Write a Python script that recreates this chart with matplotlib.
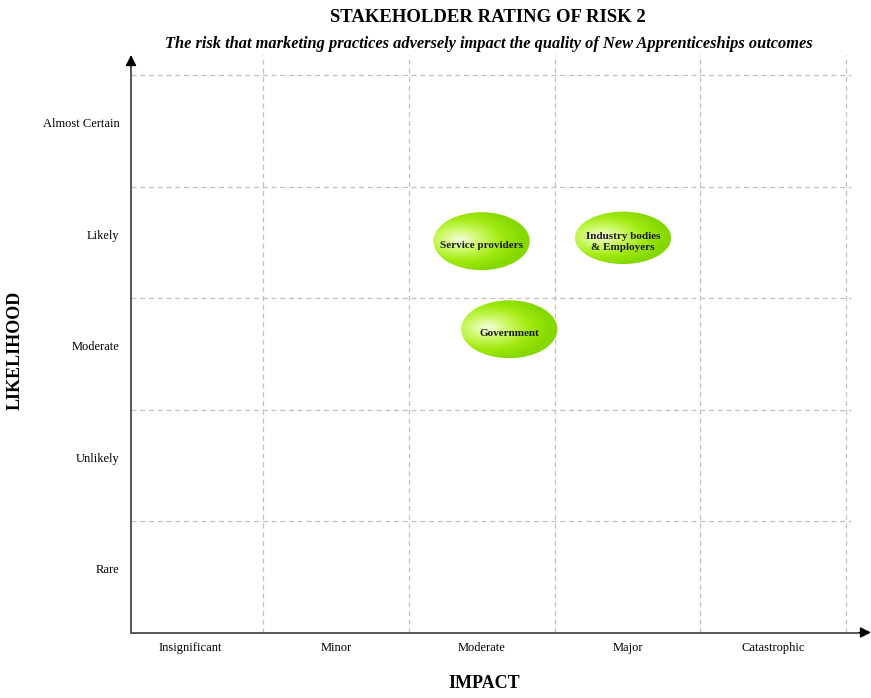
import matplotlib.pyplot as plt
import numpy as np
from matplotlib.colors import LinearSegmentedColormap
from matplotlib.patches import Ellipse

impact_labels = ["Insignificant", "Minor", "Moderate", "Major", "Catastrophic"]
likelihood_labels = ["Rare", "Unlikely", "Moderate", "Likely", "Almost Certain"]

stakeholders = ["Service providers", "Industry bodies\n& Employers", "Government"]
stake_impact = [2.50, 3.47, 2.69]
stake_likelihood = [3.51, 3.54, 2.72]
stake_w = [0.66, 0.66, 0.66]
stake_h = [0.52, 0.47, 0.52]

plt.rcParams["font.family"] = ["Liberation Serif", "DejaVu Serif"]

W, H = 871, 698
fig = plt.figure(figsize=(W / 100, H / 100), dpi=100)
x0, x1 = 131, 871
y0, y1 = 632.5, 55
ax = fig.add_axes([x0 / W, (H - y0) / H, (x1 - x0) / W, (y0 - y1) / H])

xmin, xmax = 0.096, 5.17
ymin, ymax = 0.0, 5.18
ax.set_xlim(xmin, xmax)
ax.set_ylim(ymin, ymax)

# dashed cell borders
for k in range(1, 6):
    ax.axvline(k, color="#c0c0c0", lw=0.9, ls=(0, (4, 3)), zorder=1)
    ax.axhline(k, color="#c0c0c0", lw=0.9, ls=(0, (4, 3)), zorder=1,
               xmax=(5.03 - xmin) / (xmax - xmin))

for s in ax.spines.values():
    s.set_visible(False)
ax.set_xticks([])
ax.set_yticks([])

# axis lines, then black arrowheads at their ends
ax.plot([xmin, xmax - 0.04], [0, 0], color="#555555", lw=1.4,
        clip_on=False, zorder=2)
ax.plot([xmin, xmin], [0, ymax - 0.06], color="#555555", lw=1.4,
        clip_on=False, zorder=2)
ax.annotate("", xy=(xmax, 0), xytext=(xmax - 0.08, 0),
            arrowprops=dict(arrowstyle="-|>", color="black", lw=1.0,
                            mutation_scale=16, shrinkA=0, shrinkB=0),
            annotation_clip=False)
ax.annotate("", xy=(xmin, ymax), xytext=(xmin, ymax - 0.1),
            arrowprops=dict(arrowstyle="-|>", color="black", lw=1.0,
                            mutation_scale=16, shrinkA=0, shrinkB=0),
            annotation_clip=False)

for i, lab in enumerate(impact_labels):
    ax.text(i + 0.5, -0.14, lab, ha="center", va="center", fontsize=9,
            clip_on=False)
for i, lab in enumerate(likelihood_labels):
    ax.text(xmin - 0.08, i + 0.56, lab, ha="right", va="center",
            fontsize=9, clip_on=False)

green = LinearSegmentedColormap.from_list(
    "blob", ["#f4ffdc", "#cdf866", "#a2ea10", "#86d900"])

for name, cx, cy, w, h in zip(stakeholders, stake_impact, stake_likelihood,
                              stake_w, stake_h):
    gx = np.linspace(-1, 1, 200)
    gy = np.linspace(-1, 1, 200)
    X, Y = np.meshgrid(gx, gy)
    r = np.sqrt(((X + 0.45) / 1.3) ** 2 + ((Y - 0.05) / 1.1) ** 2)
    img = ax.imshow(np.clip(r, 0, 1), cmap=green, vmin=0, vmax=1,
                    extent=[cx - w / 2, cx + w / 2, cy - h / 2, cy + h / 2],
                    origin="lower", aspect="auto", zorder=3,
                    interpolation="bilinear")
    ell = Ellipse((cx, cy), w, h, facecolor="none", edgecolor="none",
                  transform=ax.transData)
    ax.add_patch(ell)
    img.set_clip_path(ell)
    ax.text(cx, cy - 0.035, name, ha="center", va="center", fontsize=8,
            fontweight="bold", color="#1a1a1a", zorder=4, linespacing=1.3)

ax.set_xlim(xmin, xmax)
ax.set_ylim(ymin, ymax)

fig.text(488 / W, 1 - 17 / H, "STAKEHOLDER RATING OF RISK 2", ha="center",
         va="center", fontsize=13.5, fontweight="bold")
fig.text(489 / W, 1 - 44 / H,
         "The risk that marketing practices adversely impact the quality of New Apprenticeships outcomes",
         ha="center", va="center", fontsize=11.8, fontweight="bold",
         style="italic")
fig.text(484 / W, 1 - 684 / H, "IMPACT", ha="center", va="center",
         fontsize=13, fontweight="bold")
fig.text(15 / W, 1 - 350 / H, "LIKELIHOOD", ha="center", va="center",
         fontsize=13, fontweight="bold", rotation=90)

fig.savefig("out.png", dpi=100, facecolor="white")
